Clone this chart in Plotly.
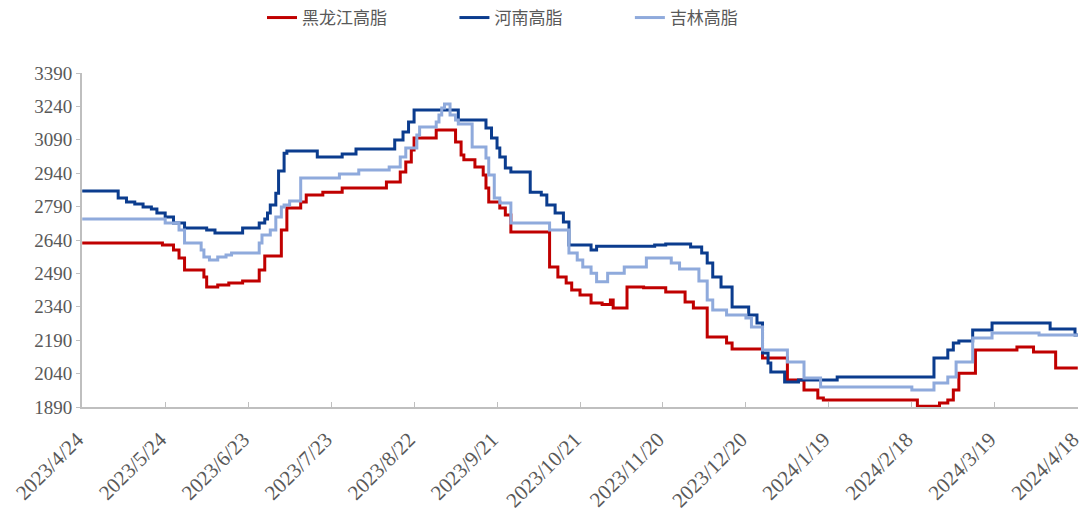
import pandas as pd
import plotly.graph_objects as go

START = "2023-04-24"
END = "2024-04-18"

# Tick labels (every 30 days)
tick_labels = ["2023/4/24", "2023/5/24", "2023/6/23", "2023/7/23", "2023/8/22",
               "2023/9/21", "2023/10/21", "2023/11/20", "2023/12/20", "2024/1/19",
               "2024/2/18", "2024/3/19", "2024/4/18"]
y_ticks = [1890, 2040, 2190, 2340, 2490, 2640, 2790, 2940, 3090, 3240, 3390]

# 黑龙江高脂: day offset from 2023-04-24 where price changes, and price
hlj_days = [0, 29, 33, 35, 37, 44, 45, 49, 53, 58, 64, 66, 72, 74, 79, 81, 87, 94,
            110, 115, 117, 119, 120, 128, 135, 137, 138, 142, 145, 146, 147, 151,
            153, 155, 169, 172, 175, 177, 180, 184, 188, 191, 192, 197, 203, 211,
            218, 221, 226, 233, 235, 246, 255, 261, 266, 268, 302, 310, 313, 315,
            317, 323, 338, 344, 352, 360]
hlj_vals = [2627, 2618, 2595, 2559, 2505, 2474, 2429, 2438, 2447, 2456, 2505, 2568,
            2685, 2784, 2811, 2842, 2855, 2874, 2900, 2945, 2990, 3044, 3098, 3134,
            3080, 3022, 3000, 2968, 2932, 2874, 2811, 2784, 2752, 2676, 2519, 2474,
            2447, 2416, 2393, 2357, 2350, 2371, 2335, 2429, 2425, 2407, 2362, 2335,
            2204, 2177, 2150, 2110, 2011, 1966, 1930, 1921, 1893, 1908, 1921, 1966,
            2042, 2146, 2160, 2137, 2065, 2065]

# 河南高脂
hn_days = [0, 13, 16, 19, 22, 25, 27, 30, 33, 37, 45, 48, 58, 64, 66, 67, 68, 70,
           71, 73, 74, 85, 94, 99, 113, 116, 118, 120, 136, 146, 148, 150, 151, 153,
           155, 162, 166, 168, 171, 174, 176, 184, 186, 207, 211, 220, 224, 226, 228,
           231, 235, 241, 244, 246, 248, 249, 254, 259, 273, 308, 313, 315, 317, 322,
           329, 350, 359, 360]
hn_vals = [2860, 2829, 2811, 2802, 2788, 2779, 2761, 2743, 2716, 2694, 2685, 2671,
           2694, 2716, 2734, 2761, 2797, 2850, 2950, 3030, 3040, 3013, 3026, 3049,
           3089, 3125, 3170, 3224, 3179, 3143, 3098, 3053, 3013, 2963, 2945, 2855,
           2842, 2797, 2761, 2721, 2617, 2595, 2612, 2617, 2622, 2609, 2582, 2537,
           2474, 2429, 2339, 2303, 2267, 2133, 2088, 2047, 2002, 2011, 2025, 2110,
           2146, 2177, 2186, 2236, 2267, 2240, 2213, 2213]

# 吉林高脂
jl_days = [0, 30, 35, 37, 43, 44, 46, 49, 52, 54, 64, 65, 68, 70, 72, 73, 75, 79,
           93, 100, 111, 115, 117, 121, 122, 128, 129, 130, 131, 133, 135, 136, 141,
           146, 147, 149, 151, 155, 169, 176, 179, 181, 184, 186, 190, 196, 204, 213,
           216, 223, 226, 228, 233, 240, 242, 246, 255, 261, 267, 300, 308, 313, 316,
           322, 329, 346, 360]
jl_vals = [2734, 2716, 2685, 2627, 2595, 2564, 2550, 2564, 2573, 2582, 2627, 2663,
           2685, 2743, 2788, 2797, 2815, 2918, 2936, 2954, 2968, 3013, 3053, 3112,
           3148, 3170, 3201, 3233, 3251, 3201, 3179, 3161, 3058, 3008, 2932, 2829,
           2806, 2716, 2685, 2582, 2550, 2519, 2491, 2452, 2491, 2519, 2559, 2537,
           2510, 2456, 2371, 2326, 2303, 2290, 2249, 2146, 2092, 2020, 1980, 1966,
           1998, 2025, 2092, 2200, 2222, 2213, 2213]

base = pd.Timestamp(START)


def to_dates(days):
    return [base + pd.Timedelta(days=d) for d in days]


tick_vals = [pd.Timestamp(f"{s.split('/')[0]}-{int(s.split('/')[1]):02d}-{int(s.split('/')[2]):02d}")
             for s in tick_labels]

GAP = "\u3000\u3000\u3000\u00a0\u00a0\u00a0"
series = [
    ("黑龙江高脂", hlj_days, hlj_vals, "#C00000"),
    ("河南高脂", hn_days, hn_vals, "#0B3C8E"),
    ("吉林高脂", jl_days, jl_vals, "#8FAADC"),
]

fig = go.Figure()
for i, (name, days, vals, color) in enumerate(series):
    label = name + (GAP if i < len(series) - 1 else "")
    fig.add_trace(go.Scatter(
        x=to_dates(days), y=vals, name=label, mode="lines",
        line=dict(color=color, width=3, shape="hv"),
    ))

axis_color = "#BFBFBF"
fig.update_layout(
    width=1086, height=515,
    margin=dict(l=82, r=8, t=73, b=108, autoexpand=False),
    paper_bgcolor="white", plot_bgcolor="white",
    showlegend=True,
    legend=dict(orientation="h", x=(262 - 82) / 996, xanchor="left",
                y=1.0, yanchor="top", yref="container",
                font=dict(family="Noto Sans CJK SC", size=17, color="#595959"),
                traceorder="normal", itemwidth=30),
    font=dict(family="Liberation Serif", color="#595959"),
)
fig.update_xaxes(
    range=[pd.Timestamp(START) - pd.Timedelta(hours=2), pd.Timestamp(END) + pd.Timedelta(hours=2)],
    tickvals=tick_vals, ticktext=tick_labels, tickangle=-45,
    tickfont=dict(family="Liberation Serif", size=21, color="#595959"),
    showgrid=False, showline=True, linecolor=axis_color, linewidth=2,
    ticks="inside", ticklen=5, tickcolor=axis_color, tickwidth=1,
    zeroline=False, automargin=False, ticklabeloverflow="allow",
    ticklabelstandoff=10, ticklabelshift=-5,
)
fig.update_yaxes(
    range=[1890, 3390], tickvals=y_ticks,
    tickfont=dict(family="Liberation Serif", size=19, color="#595959"),
    showgrid=False, showline=True, linecolor=axis_color, linewidth=2,
    ticks="outside", ticklen=4, tickcolor=axis_color, tickwidth=1,
    zeroline=False, automargin=False,
)

fig.write_html(
    "out.html",
    config={"displayModeBar": False},
    post_script="document.body.style.margin='0';document.body.style.overflow='hidden';",
)
